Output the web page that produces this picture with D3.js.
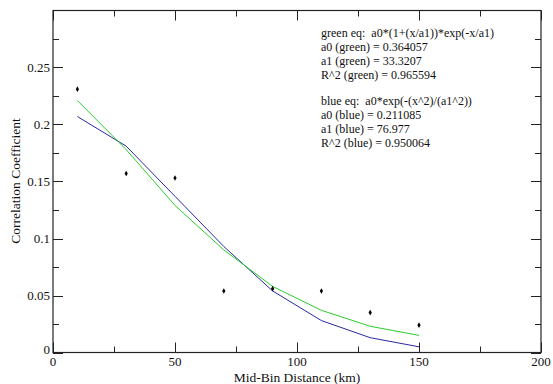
<!DOCTYPE html>
<html>
<head>
<meta charset="utf-8">
<script src="https://cdn.jsdelivr.net/npm/d3@7"></script>
<style>
  html, body { margin: 0; padding: 0; background: #fff; }
  svg text { font-family: "Liberation Serif", "Liberation Sans", Arial, sans-serif; }
  .note { white-space: pre; }
</style>
</head>
<body>
<div id="chart"></div>
<script>
// 数据：距离分箱中点与相关系数
const distances = [10, 30, 50, 70, 90, 110, 130, 150];
const observed = [0.231, 0.157, 0.153, 0.054, 0.056, 0.054, 0.035, 0.024];
const greenFit = [0.221, 0.178, 0.129, 0.090, 0.058, 0.037, 0.023, 0.015];
const blueFit = [0.207, 0.181, 0.137, 0.093, 0.054, 0.028, 0.013, 0.005];

const xTicks = [0, 50, 100, 150, 200];
const yTicks = [0, 0.05, 0.1, 0.15, 0.2, 0.25];
const yTickLabels = ["0", "0.05", "0.1", "0.15", "0.2", "0.25"];

const greenNote = [
  "green eq:  a0*(1+(x/a1))*exp(-x/a1)",
  "a0 (green) = 0.364057",
  "a1 (green) = 33.3207",
  "R^2 (green) = 0.965594"
];
const blueNote = [
  "blue eq:  a0*exp(-(x^2)/(a1^2))",
  "a0 (blue) = 0.211085",
  "a1 (blue) = 76.977",
  "R^2 (blue) = 0.950064"
];

// SVG设置
const width = 553;
const height = 384;
const plot = { left: 53, right: 541, top: 10.5, bottom: 352.5 };
const titleSize = 13.5, tickSize = 13, noteSize = 12;

const svg = d3.select("#chart")
  .append("svg")
  .attr("width", width)
  .attr("height", height);

const x = d3.scaleLinear().domain([0, 200]).range([plot.left, plot.right]);
const y = d3.scaleLinear().domain([0, 0.3]).range([plot.bottom, plot.top]);

const major = 10, minor = 6, axisColor = "#222";

// 刻度（向内）
function drawTicks() {
  const g = svg.append("g").attr("stroke", axisColor).attr("stroke-width", 1);
  d3.range(0, 201, 25).forEach(v => {
    const len = v % 50 === 0 ? major : minor;
    const px = Math.round(x(v)) + 0.5;
    g.append("line").attr("x1", px).attr("x2", px).attr("y1", plot.bottom).attr("y2", plot.bottom - len);
    g.append("line").attr("x1", px).attr("x2", px).attr("y1", plot.top).attr("y2", plot.top + len);
  });
  d3.range(0, 13).forEach(i => {
    const v = i * 0.025;
    const len = i % 2 === 0 ? major : minor;
    const py = Math.round(y(v)) + 0.5;
    g.append("line").attr("y1", py).attr("y2", py).attr("x1", plot.left).attr("x2", plot.left + len);
    g.append("line").attr("y1", py).attr("y2", py).attr("x1", plot.right).attr("x2", plot.right - len);
  });
}
drawTicks();

// 坐标框
svg.append("rect")
  .attr("x", plot.left).attr("y", plot.top)
  .attr("width", plot.right - plot.left)
  .attr("height", plot.bottom - plot.top)
  .attr("fill", "none")
  .attr("stroke", axisColor)
  .attr("stroke-width", 1.2);

// 刻度标签
svg.append("g").selectAll("text")
  .data(xTicks)
  .enter().append("text")
  .attr("x", d => x(d))
  .attr("y", 366)
  .attr("text-anchor", "middle")
  .attr("font-size", tickSize)
  .attr("fill", "#111")
  .text(d => d);

svg.append("g").selectAll("text")
  .data(yTicks)
  .enter().append("text")
  .attr("x", plot.left - 3)
  .attr("y", (d, i) => y(d) + (i === 0 ? 1 : 4.5))
  .attr("text-anchor", "end")
  .attr("font-size", tickSize)
  .attr("fill", "#111")
  .text((d, i) => yTickLabels[i]);

// 坐标轴标题
svg.append("text")
  .attr("x", (plot.left + plot.right) / 2)
  .attr("y", 381.5)
  .attr("text-anchor", "middle")
  .attr("font-size", titleSize)
  .attr("fill", "#111")
  .text("Mid-Bin Distance (km)");

svg.append("text")
  .attr("transform", `translate(20,181) rotate(-90)`)
  .attr("text-anchor", "middle")
  .attr("font-size", titleSize)
  .attr("fill", "#111")
  .text("Correlation Coefficient");

// 拟合曲线
const line = d3.line().x((d, i) => x(distances[i])).y(d => y(d));

svg.append("path")
  .datum(blueFit)
  .attr("d", line)
  .attr("fill", "none")
  .attr("stroke", "#2a2aa0")
  .attr("stroke-width", 1);

svg.append("path")
  .datum(greenFit)
  .attr("d", line)
  .attr("fill", "none")
  .attr("stroke", "#2ccc2c")
  .attr("stroke-width", 1);

// 观测点（菱形）
svg.append("g").selectAll("path")
  .data(observed)
  .enter().append("path")
  .attr("d", d3.symbol().type(d3.symbolDiamond).size(9))
  .attr("transform", (d, i) => `translate(${x(distances[i])},${y(d)})`)
  .attr("fill", "#000");

// 拟合说明文字
function drawNote(lines, x0, y0) {
  svg.append("g").selectAll("text")
    .data(lines)
    .enter().append("text")
    .attr("class", "note")
    .attr("x", x0)
    .attr("y", (d, i) => y0 + i * 14)
    .attr("font-size", noteSize)
    .attr("fill", "#111")
    .text(d => d);
}
drawNote(greenNote, 321, 36.5);
drawNote(blueNote, 321, 105);
</script>
</body>
</html>
